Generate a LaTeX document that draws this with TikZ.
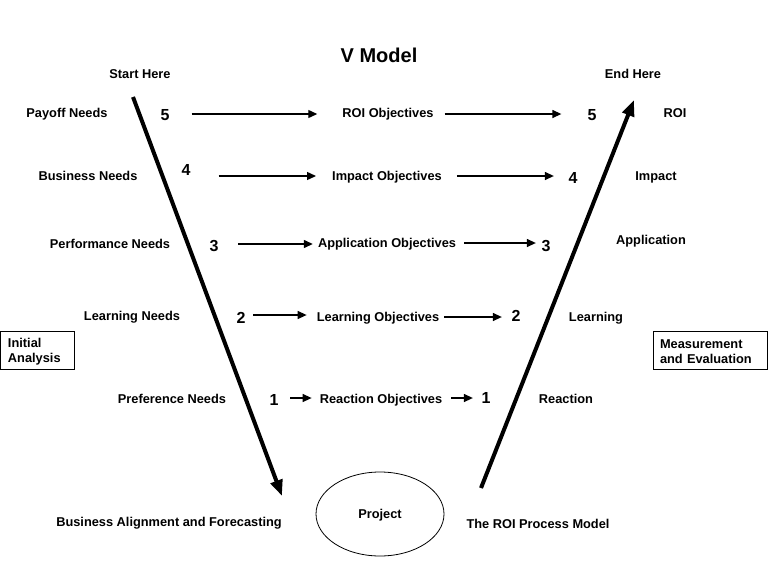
\documentclass[tikz,border=0pt]{standalone}
\usepackage{fontspec}
\setmainfont{Liberation Sans}
\usetikzlibrary{arrows.meta,shapes.geometric}
\begin{document}
\begin{tikzpicture}[x=1pt,y=-1pt,
  lbl/.style={font=\fontsize{12.8}{15}\selectfont\bfseries, inner sep=0pt, text height=9pt, text depth=0pt},
  num/.style={font=\fontsize{16}{18}\selectfont\bfseries, inner sep=0pt, text height=11.5pt, text depth=0pt},
  ttl/.style={font=\fontsize{20}{22}\selectfont\bfseries, inner sep=0pt, text height=14.3pt, text depth=0pt},
  arr/.style={line width=1.3pt, -{Triangle[length=9pt,width=8pt]}},
  varr/.style={line width=4pt, -{Triangle[length=16pt,width=12pt]}},
  box/.style={draw, line width=0.8pt, font=\fontsize{12.8}{15}\selectfont\bfseries, align=left, inner xsep=7pt, inner ysep=0pt, minimum height=38pt},
  proj/.style={draw, ellipse, line width=0.8pt, minimum width=128pt, minimum height=84pt, inner sep=0pt, text height=9pt, text depth=0pt, font=\fontsize{12.8}{15}\selectfont\bfseries}]
\useasboundingbox (0,0) rectangle (768,576);

\node[ttl] (title) at (379,55) {V Model};
\node[lbl] (start) at (140,74) {Start Here};
\node[lbl] (end) at (633,74) {End Here};

% row 5
\node[lbl] (payoff) at (67,113) {Payoff Needs};
\node[num] (n5l) at (165,115) {5};
\node[lbl] (roiobj) at (388,113) {ROI Objectives};
\node[num] (n5r) at (592,115) {5};
\node[lbl] (roi) at (675,113) {ROI};
\coordinate (r5) at (0,114);
\draw[arr, shorten <=22pt, shorten >=25pt] (n5l.east |- r5) -- (roiobj.west |- r5);
\draw[arr, shorten <=11pt, shorten >=26pt] (roiobj.east |- r5) -- (n5r.west |- r5);

% row 4
\node[lbl] (busneeds) at (88,176) {Business Needs};
\node[num] (n4l) at (186,170) {4};
\node[lbl] (impobj) at (387,176) {Impact Objectives};
\node[num] (n4r) at (573,178) {4};
\node[lbl] (impact) at (656,176) {Impact};
\coordinate (r4) at (0,176);
\draw[arr, shorten <=28pt, shorten >=16pt] (n4l.east |- r4) -- (impobj.west |- r4);
\draw[arr, shorten <=15pt, shorten >=14.5pt] (impobj.east |- r4) -- (n4r.west |- r4);

% row 3
\node[lbl] (perfneeds) at (110,244) {Performance Needs};
\node[num] (n3l) at (214,246) {3};
\node[lbl] (appobj) at (387,243) {Application Objectives};
\node[num] (n3r) at (546,246) {3};
\node[lbl] (app) at (651,240) {Application};
\coordinate (r3a) at (0,244);
\coordinate (r3b) at (0,243);
\draw[arr, shorten <=19.5pt, shorten >=5pt] (n3l.east |- r3a) -- (appobj.west |- r3a);
\draw[arr, shorten <=8pt, shorten >=5.5pt] (appobj.east |- r3b) -- (n3r.west |- r3b);

% row 2
\node[lbl] (learnneeds) at (132,316) {Learning Needs};
\node[num] (n2l) at (241,318) {2};
\node[lbl] (learnobj) at (378,317) {Learning Objectives};
\node[num] (n2r) at (516,316) {2};
\node[lbl] (learning) at (596,317) {Learning};
\coordinate (r2a) at (0,315);
\coordinate (r2b) at (0,317);
\draw[arr, shorten <=7.5pt, shorten >=10pt] (n2l.east |- r2a) -- (learnobj.west |- r2a);
\draw[arr, shorten <=5pt, shorten >=9.5pt] (learnobj.east |- r2b) -- (n2r.west |- r2b);

% row 1
\node[lbl] (prefneeds) at (172,399) {Preference Needs};
\node[num] (n1l) at (274,400) {1};
\node[lbl] (reactobj) at (381,399) {Reaction Objectives};
\node[num] (n1r) at (486,398) {1};
\node[lbl] (reaction) at (566,399) {Reaction};
\coordinate (r1) at (0,398);
\draw[arr, shorten <=11.5pt, shorten >=8pt] (n1l.east |- r1) -- (reactobj.west |- r1);
\draw[arr, shorten <=9pt, shorten >=8.5pt] (reactobj.east |- r1) -- (n1r.west |- r1);

% side boxes
\node[box, text width=59pt, minimum width=74pt] (initial) at (37.5,350) {\rule{0pt}{13pt}Initial\\Analysis};
\node[box, text width=100pt, minimum width=114pt] (measure) at (710,350) {\rule{0pt}{13pt}Measurement\\and Evaluation};

% V arrows
\coordinate (vls) at (133,97);
\coordinate (vle) at (282,496);
\coordinate (vrs) at (481,488);
\coordinate (vre) at (634,100);
\draw[varr] (vls) -- (vle);
\draw[varr] (vrs) -- (vre);

% bottom
\node[proj] (project) at (380,514) {Project};
\node[lbl] (align) at (169,522) {Business Alignment and Forecasting};
\node[lbl] (roiproc) at (538,524) {The ROI Process Model};
\end{tikzpicture}
\end{document}
